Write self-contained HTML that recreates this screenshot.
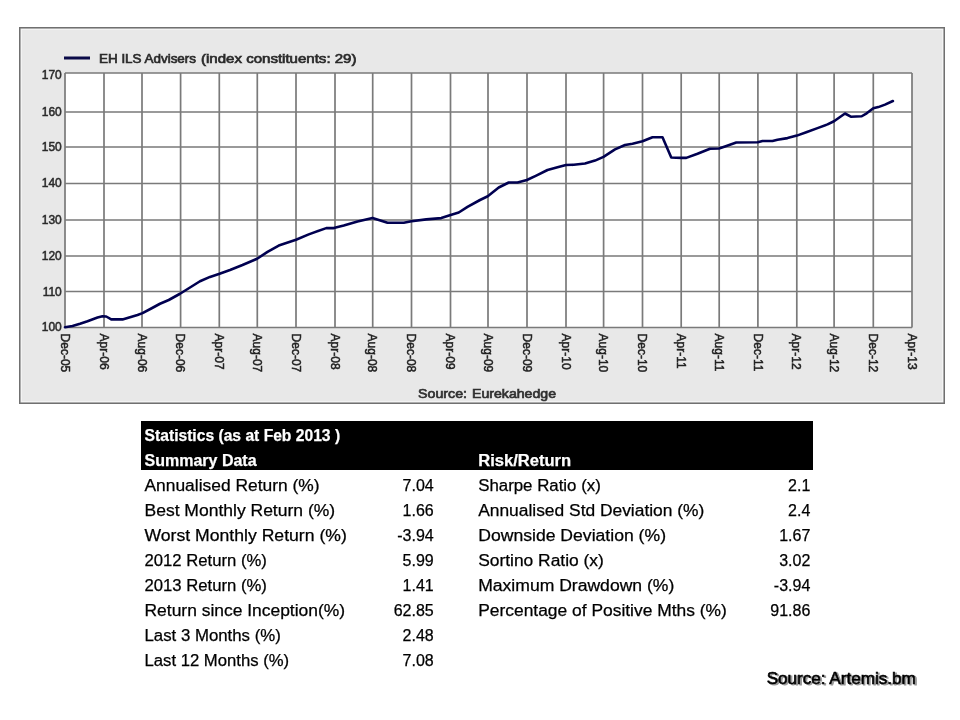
<!DOCTYPE html><html><head><meta charset="utf-8"><style>html,body{margin:0;padding:0;background:#fff;width:960px;height:720px;overflow:hidden}svg{display:block;will-change:transform}text{font-family:"Liberation Sans",sans-serif}</style></head><body>
<svg width="960" height="720" viewBox="0 0 960 720">
<rect x="19.75" y="27.75" width="924.5" height="375.5" fill="#e8e8e8" stroke="#707070" stroke-width="1.5"/>
<rect x="21.5" y="29.5" width="921" height="372" fill="none" stroke="#f3f3f3" stroke-width="1"/>
<line x1="64" y1="58" x2="90" y2="58" stroke="#0a0a48" stroke-width="3"/>
<text x="99" y="63.4" font-size="12.5" fill="#2a2a2a" stroke="#2a2a2a" stroke-width="0.65" textLength="97" lengthAdjust="spacingAndGlyphs">EH ILS Advisers</text>
<text x="201" y="63.4" font-size="12.5" fill="#2a2a2a" stroke="#2a2a2a" stroke-width="0.65" textLength="155.5" lengthAdjust="spacingAndGlyphs">(index constituents: 29)</text>
<rect x="65" y="73" width="847" height="254.5" fill="#fff"/>
<path d="M65 73V327.5M104 73V327.5M142 73V327.5M180.6 73V327.5M219.3 73V327.5M257.3 73V327.5M296 73V327.5M335 73V327.5M372.7 73V327.5M411.5 73V327.5M450.5 73V327.5M488 73V327.5M527 73V327.5M566 73V327.5M603.6 73V327.5M642.5 73V327.5M681.2 73V327.5M719.2 73V327.5M757.9 73V327.5M796.8 73V327.5M834.1 73V327.5M873.3 73V327.5M912 73V327.5M65 73H912M65 112H912M65 147H912M65 183.5H912M65 220H912M65 256H912M65 291.5H912M65 327.5H912" stroke="#7a7a7a" stroke-width="1.7" fill="none"/>
<text x="61.8" y="79.4" font-size="12" fill="#2a2a2a" stroke="#2a2a2a" stroke-width="0.5" text-anchor="end">170</text>
<text x="61.8" y="115.8" font-size="12" fill="#2a2a2a" stroke="#2a2a2a" stroke-width="0.5" text-anchor="end">160</text>
<text x="61.8" y="151.3" font-size="12" fill="#2a2a2a" stroke="#2a2a2a" stroke-width="0.5" text-anchor="end">150</text>
<text x="61.8" y="187.4" font-size="12" fill="#2a2a2a" stroke="#2a2a2a" stroke-width="0.5" text-anchor="end">140</text>
<text x="61.8" y="223.5" font-size="12" fill="#2a2a2a" stroke="#2a2a2a" stroke-width="0.5" text-anchor="end">130</text>
<text x="61.8" y="259.8" font-size="12" fill="#2a2a2a" stroke="#2a2a2a" stroke-width="0.5" text-anchor="end">120</text>
<text x="61.8" y="295.7" font-size="12" fill="#2a2a2a" stroke="#2a2a2a" stroke-width="0.5" text-anchor="end">110</text>
<text x="61.8" y="330.8" font-size="12" fill="#2a2a2a" stroke="#2a2a2a" stroke-width="0.5" text-anchor="end">100</text>
<text transform="translate(60.6,333.6) rotate(90)" font-size="12" fill="#222" stroke="#222" stroke-width="0.5">Dec-05</text>
<text transform="translate(99.6,333.6) rotate(90)" font-size="12" fill="#222" stroke="#222" stroke-width="0.5">Apr-06</text>
<text transform="translate(137.6,333.6) rotate(90)" font-size="12" fill="#222" stroke="#222" stroke-width="0.5">Aug-06</text>
<text transform="translate(176.2,333.6) rotate(90)" font-size="12" fill="#222" stroke="#222" stroke-width="0.5">Dec-06</text>
<text transform="translate(214.9,333.6) rotate(90)" font-size="12" fill="#222" stroke="#222" stroke-width="0.5">Apr-07</text>
<text transform="translate(252.9,333.6) rotate(90)" font-size="12" fill="#222" stroke="#222" stroke-width="0.5">Aug-07</text>
<text transform="translate(291.6,333.6) rotate(90)" font-size="12" fill="#222" stroke="#222" stroke-width="0.5">Dec-07</text>
<text transform="translate(330.6,333.6) rotate(90)" font-size="12" fill="#222" stroke="#222" stroke-width="0.5">Apr-08</text>
<text transform="translate(368.3,333.6) rotate(90)" font-size="12" fill="#222" stroke="#222" stroke-width="0.5">Aug-08</text>
<text transform="translate(407.1,333.6) rotate(90)" font-size="12" fill="#222" stroke="#222" stroke-width="0.5">Dec-08</text>
<text transform="translate(446.1,333.6) rotate(90)" font-size="12" fill="#222" stroke="#222" stroke-width="0.5">Apr-09</text>
<text transform="translate(483.6,333.6) rotate(90)" font-size="12" fill="#222" stroke="#222" stroke-width="0.5">Aug-09</text>
<text transform="translate(522.6,333.6) rotate(90)" font-size="12" fill="#222" stroke="#222" stroke-width="0.5">Dec-09</text>
<text transform="translate(561.6,333.6) rotate(90)" font-size="12" fill="#222" stroke="#222" stroke-width="0.5">Apr-10</text>
<text transform="translate(599.2,333.6) rotate(90)" font-size="12" fill="#222" stroke="#222" stroke-width="0.5">Aug-10</text>
<text transform="translate(638.1,333.6) rotate(90)" font-size="12" fill="#222" stroke="#222" stroke-width="0.5">Dec-10</text>
<text transform="translate(676.8000000000001,333.6) rotate(90)" font-size="12" fill="#222" stroke="#222" stroke-width="0.5">Apr-11</text>
<text transform="translate(714.8000000000001,333.6) rotate(90)" font-size="12" fill="#222" stroke="#222" stroke-width="0.5">Aug-11</text>
<text transform="translate(753.5,333.6) rotate(90)" font-size="12" fill="#222" stroke="#222" stroke-width="0.5">Dec-11</text>
<text transform="translate(792.4,333.6) rotate(90)" font-size="12" fill="#222" stroke="#222" stroke-width="0.5">Apr-12</text>
<text transform="translate(829.7,333.6) rotate(90)" font-size="12" fill="#222" stroke="#222" stroke-width="0.5">Aug-12</text>
<text transform="translate(868.9,333.6) rotate(90)" font-size="12" fill="#222" stroke="#222" stroke-width="0.5">Dec-12</text>
<text transform="translate(907.6,333.6) rotate(90)" font-size="12" fill="#222" stroke="#222" stroke-width="0.5">Apr-13</text>
<text x="418" y="397.5" font-size="12.5" fill="#2f2f2f" stroke="#2f2f2f" stroke-width="0.65" textLength="49" lengthAdjust="spacingAndGlyphs">Source:</text>
<text x="472" y="397.5" font-size="12.5" fill="#2f2f2f" stroke="#2f2f2f" stroke-width="0.65" textLength="84" lengthAdjust="spacingAndGlyphs">Eurekahedge</text>
<path d="M65 327.25 L72.5 326 L80 323.75 L87.5 321.25 L97.5 317.5 L102.5 316.25 L106.25 316.5 L111.25 319.4 L122.5 319.4 L130 317.25 L137.5 315 L142.5 313.1 L151.25 308.5 L160 303.75 L168.75 300 L180 293.75 L190 287.5 L200 281.25 L210 276.9 L219.6 273.75 L230 270 L242.5 265 L257.1 258.75 L267.5 251.9 L278.75 245.6 L296 239.75 L308.75 234.4 L326.25 228.1 L333.75 228.1 L343.75 225.6 L357.5 221.5 L372.5 217.9 L387.5 222.75 L403.75 222.75 L411.5 221.25 L426.25 219.4 L441.25 218.1 L450.6 215 L458.75 212.5 L467.5 206.9 L480 200 L487.75 196.25 L498.75 187.5 L508.75 182.5 L517.5 182.5 L526.9 180 L536.25 175.6 L547.5 170 L557.5 167.25 L566 165 L573.75 164.75 L585 163.5 L595 160.6 L603.5 156.9 L615 149.4 L625 145 L632.5 143.75 L642.5 141.25 L652.5 137.25 L662.5 137.25 L671.25 157.5 L681.25 157.9 L686.25 157.9 L697.5 153.75 L710 148.75 L719 148.5 L725 146.5 L736.25 142.5 L757.75 142.25 L762.5 141 L772.5 141 L777.5 139.75 L787.5 138.1 L796.9 135.6 L806.25 132.25 L817.5 128.1 L827.5 124.4 L834 121.25 L845 113.5 L850.8 116.7 L861.7 116.25 L866.7 113.3 L873.3 108.3 L878.3 107.1 L885 104.6 L892.9 101" stroke="#000050" stroke-width="2.6" fill="none" stroke-linejoin="round" stroke-linecap="round"/>
<rect x="141" y="421" width="672" height="49" fill="#000"/>
<text x="144.6" y="441" font-size="16" font-weight="bold" fill="#fff" stroke="#fff" stroke-width="0.25" text-anchor="start" textLength="195.5" lengthAdjust="spacingAndGlyphs">Statistics (as at Feb 2013 )</text>
<text x="144.6" y="466" font-size="16" font-weight="bold" fill="#fff" stroke="#fff" stroke-width="0.25" text-anchor="start" textLength="112" lengthAdjust="spacingAndGlyphs">Summary Data</text>
<text x="478.2" y="466" font-size="16" font-weight="bold" fill="#fff" stroke="#fff" stroke-width="0.25" text-anchor="start" textLength="93" lengthAdjust="spacingAndGlyphs">Risk/Return</text>
<text x="144.5" y="491" font-size="16" fill="#000" stroke="#000" stroke-width="0.25" text-anchor="start" textLength="175.0" lengthAdjust="spacingAndGlyphs">Annualised Return (%)</text>
<text x="433.7" y="491" font-size="16" fill="#000" stroke="#000" stroke-width="0.25" text-anchor="end">7.04</text>
<text x="144.5" y="516" font-size="16" fill="#000" stroke="#000" stroke-width="0.25" text-anchor="start" textLength="190.6" lengthAdjust="spacingAndGlyphs">Best Monthly Return (%)</text>
<text x="433.7" y="516" font-size="16" fill="#000" stroke="#000" stroke-width="0.25" text-anchor="end">1.66</text>
<text x="144.5" y="541" font-size="16" fill="#000" stroke="#000" stroke-width="0.25" text-anchor="start" textLength="202.3" lengthAdjust="spacingAndGlyphs">Worst Monthly Return (%)</text>
<text x="433.7" y="541" font-size="16" fill="#000" stroke="#000" stroke-width="0.25" text-anchor="end">-3.94</text>
<text x="144.5" y="566" font-size="16" fill="#000" stroke="#000" stroke-width="0.25" text-anchor="start" textLength="122.3" lengthAdjust="spacingAndGlyphs">2012 Return (%)</text>
<text x="433.7" y="566" font-size="16" fill="#000" stroke="#000" stroke-width="0.25" text-anchor="end">5.99</text>
<text x="144.5" y="591" font-size="16" fill="#000" stroke="#000" stroke-width="0.25" text-anchor="start" textLength="122.3" lengthAdjust="spacingAndGlyphs">2013 Return (%)</text>
<text x="433.7" y="591" font-size="16" fill="#000" stroke="#000" stroke-width="0.25" text-anchor="end">1.41</text>
<text x="144.5" y="616" font-size="16" fill="#000" stroke="#000" stroke-width="0.25" text-anchor="start" textLength="200.6" lengthAdjust="spacingAndGlyphs">Return since Inception(%)</text>
<text x="433.7" y="616" font-size="16" fill="#000" stroke="#000" stroke-width="0.25" text-anchor="end">62.85</text>
<text x="144.5" y="641" font-size="16" fill="#000" stroke="#000" stroke-width="0.25" text-anchor="start" textLength="136.3" lengthAdjust="spacingAndGlyphs">Last 3 Months (%)</text>
<text x="433.7" y="641" font-size="16" fill="#000" stroke="#000" stroke-width="0.25" text-anchor="end">2.48</text>
<text x="144.5" y="666" font-size="16" fill="#000" stroke="#000" stroke-width="0.25" text-anchor="start" textLength="144.6" lengthAdjust="spacingAndGlyphs">Last 12 Months (%)</text>
<text x="433.7" y="666" font-size="16" fill="#000" stroke="#000" stroke-width="0.25" text-anchor="end">7.08</text>
<text x="478.2" y="491" font-size="16" fill="#000" stroke="#000" stroke-width="0.25" text-anchor="start" textLength="122.6" lengthAdjust="spacingAndGlyphs">Sharpe Ratio (x)</text>
<text x="810.3" y="491" font-size="16" fill="#000" stroke="#000" stroke-width="0.25" text-anchor="end">2.1</text>
<text x="478.2" y="516" font-size="16" fill="#000" stroke="#000" stroke-width="0.25" text-anchor="start" textLength="226.1" lengthAdjust="spacingAndGlyphs">Annualised Std Deviation (%)</text>
<text x="810.3" y="516" font-size="16" fill="#000" stroke="#000" stroke-width="0.25" text-anchor="end">2.4</text>
<text x="478.2" y="541" font-size="16" fill="#000" stroke="#000" stroke-width="0.25" text-anchor="start" textLength="187.8" lengthAdjust="spacingAndGlyphs">Downside Deviation (%)</text>
<text x="810.3" y="541" font-size="16" fill="#000" stroke="#000" stroke-width="0.25" text-anchor="end">1.67</text>
<text x="478.2" y="566" font-size="16" fill="#000" stroke="#000" stroke-width="0.25" text-anchor="start" textLength="125.6" lengthAdjust="spacingAndGlyphs">Sortino Ratio (x)</text>
<text x="810.3" y="566" font-size="16" fill="#000" stroke="#000" stroke-width="0.25" text-anchor="end">3.02</text>
<text x="478.2" y="591" font-size="16" fill="#000" stroke="#000" stroke-width="0.25" text-anchor="start" textLength="196.1" lengthAdjust="spacingAndGlyphs">Maximum Drawdown (%)</text>
<text x="810.3" y="591" font-size="16" fill="#000" stroke="#000" stroke-width="0.25" text-anchor="end">-3.94</text>
<text x="478.2" y="616" font-size="16" fill="#000" stroke="#000" stroke-width="0.25" text-anchor="start" textLength="248.6" lengthAdjust="spacingAndGlyphs">Percentage of Positive Mths (%)</text>
<text x="810.3" y="616" font-size="16" fill="#000" stroke="#000" stroke-width="0.25" text-anchor="end">91.86</text>
<defs><filter id="bl" x="-5%" y="-20%" width="110%" height="140%"><feGaussianBlur stdDeviation="0.7"/></filter></defs><text filter="url(#bl)" x="768.4" y="685.3" font-size="15.6" fill="#999" stroke="#999" stroke-width="0.8" textLength="149" lengthAdjust="spacingAndGlyphs">Source: Artemis.bm</text>
<text x="766.7" y="683.6" font-size="15.6" fill="#000" stroke="#000" stroke-width="0.55" textLength="149" lengthAdjust="spacingAndGlyphs">Source: Artemis.bm</text>
</svg></body></html>
